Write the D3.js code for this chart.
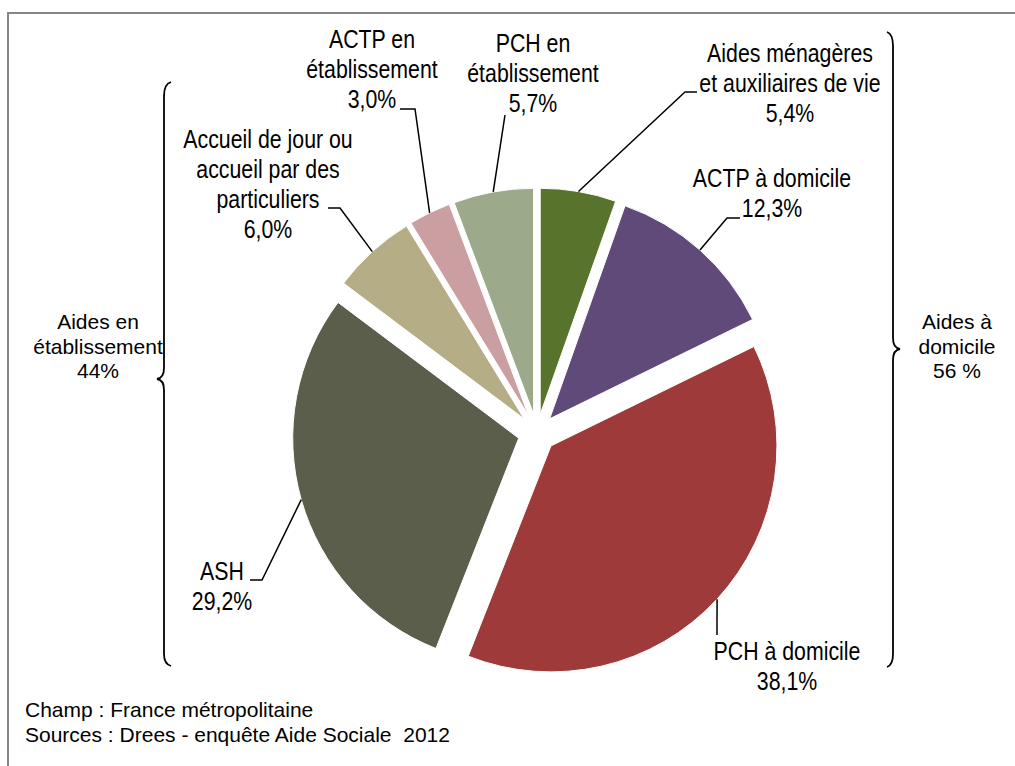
<!DOCTYPE html>
<html>
<head>
<meta charset="utf-8">
<script src="https://cdn.jsdelivr.net/npm/d3@7"></script>
<style>
  html, body { margin: 0; padding: 0; background: #fff; }
  svg { display: block; }
  .lbl { font-family: 'Liberation Sans', Arial, sans-serif; font-size: 26px; fill: #000; }
  .note { font-family: 'Liberation Sans', Arial, sans-serif; font-size: 21px; fill: #000; white-space: pre; }
</style>
</head>
<body>
<script>
// ---- data ----
const categories = [
  "Aides ménagères et auxiliaires de vie",
  "ACTP à domicile",
  "PCH à domicile",
  "ASH",
  "Accueil de jour ou accueil par des particuliers",
  "ACTP en établissement",
  "PCH en établissement"
];
const values = [5.4, 12.3, 38.1, 29.2, 6.0, 3.0, 5.7];
const colors = ["#58742C", "#5F4A7A", "#9F3A3A", "#5B5E4B", "#B5AD85", "#CB9FA2", "#9CA98A"];
const labelLines = [
  ["Aides ménagères", "et auxiliaires de vie"],
  ["ACTP à domicile"],
  ["PCH à domicile"],
  ["ASH"],
  ["Accueil de jour ou", "accueil par des", "particuliers"],
  ["ACTP en", "établissement"],
  ["PCH en", "établissement"]
];
const groupLabels = [
  ["Aides en", "établissement", "44%"],
  ["Aides à", "domicile", "56 %"]
];
const notes = ["Champ : France métropolitaine", "Sources : Drees - enquête Aide Sociale  2012"];

// ---- layout ----
const W = 1015, H = 766;
const cx = 537, cy = 433, R = 226, explode = 19;
const labelPos = [
  { x: 790, y: 62,  leader: [[697, 92], [685, 92]] },
  { x: 772, y: 187, leader: [[740, 218], [727, 218]] },
  { x: 787, y: 660, leader: [[717, 635]] },
  { x: 222, y: 580, leader: [[250, 580], [262, 580]] },
  { x: 268, y: 148, leader: [[328, 208], [340, 208]] },
  { x: 372, y: 48,  leader: [[400, 109], [415, 109]] },
  { x: 533, y: 52,  leader: [[505, 115]] }
];
const lineH = 30;
const narrow = 0.82;

const svg = d3.select("body").append("svg").attr("width", W).attr("height", H);

// frame
svg.append("rect").attr("x", 8).attr("y", 13).attr("width", 1200).attr("height", 1000)
  .attr("fill", "none").attr("stroke", "#868686").attr("stroke-width", 2);

const color = d3.scaleOrdinal().domain(categories).range(colors);
const pie = d3.pie().sort(null).value(d => d.v).startAngle(0).endAngle(2 * Math.PI);
const arcs = pie(categories.map((c, i) => ({ c, v: values[i], i })));
const arc = d3.arc().innerRadius(0).outerRadius(R);
const fmt = v => d3.format(".1f")(v).replace(".", ",") + "%";

const g = svg.append("g").attr("transform", `translate(${cx},${cy})`);
arcs.forEach(a => {
  const mid = (a.startAngle + a.endAngle) / 2;
  a.ox = Math.sin(mid) * explode;
  a.oy = -Math.cos(mid) * explode;
  a.px = cx + a.ox + Math.sin(mid) * R;
  a.py = cy + a.oy - Math.cos(mid) * R;
});
g.selectAll("path.slice").data(arcs).join("path")
  .attr("class", "slice")
  .attr("transform", d => `translate(${d.ox},${d.oy})`)
  .attr("d", arc)
  .attr("fill", d => color(d.data.c))
  .attr("stroke", "#fff").attr("stroke-width", 1);

// leaders
const line = d3.line();
svg.selectAll("path.leader").data(arcs).join("path")
  .attr("class", "leader")
  .attr("d", d => line([...labelPos[d.data.i].leader, [d.px, d.py]]))
  .attr("fill", "none").attr("stroke", "#000").attr("stroke-width", 1.5);

// labels (narrow: horizontally condensed)
arcs.forEach(a => {
  const p = labelPos[a.data.i];
  const lines = [...labelLines[a.data.i], fmt(a.data.v)];
  const t = svg.append("text").attr("class", "lbl").attr("text-anchor", "middle")
    .attr("transform", `translate(${p.x},0) scale(${narrow},1)`);
  lines.forEach((l, k) => t.append("tspan").attr("x", 0).attr("y", p.y + k * lineH).text(l));
});

// braces
svg.append("path")
  .attr("d", "M171,82 Q164,84 164,96 L164,368 Q164,378 157,379 Q164,380 164,390 L164,654 Q164,664 171,666")
  .attr("fill", "none").attr("stroke", "#000").attr("stroke-width", 1.8);
svg.append("path")
  .attr("d", "M887,32 Q893,34 893,46 L893,338 Q893,348 900,349 Q893,350 893,360 L893,654 Q893,665 887,667")
  .attr("fill", "none").attr("stroke", "#000").attr("stroke-width", 1.8);

// group labels
const gpos = [{ x: 98, y: 329 }, { x: 957, y: 329 }];
groupLabels.forEach((ls, i) => {
  const t = svg.append("text").attr("class", "note").attr("text-anchor", "middle");
  ls.forEach((l, k) => t.append("tspan").attr("x", gpos[i].x).attr("y", gpos[i].y + k * 24.5).text(l));
});

// notes
notes.forEach((n, k) => svg.append("text").attr("class", "note")
  .attr("x", 25).attr("y", 717 + k * 25).text(n));
</script>
</body>
</html>
